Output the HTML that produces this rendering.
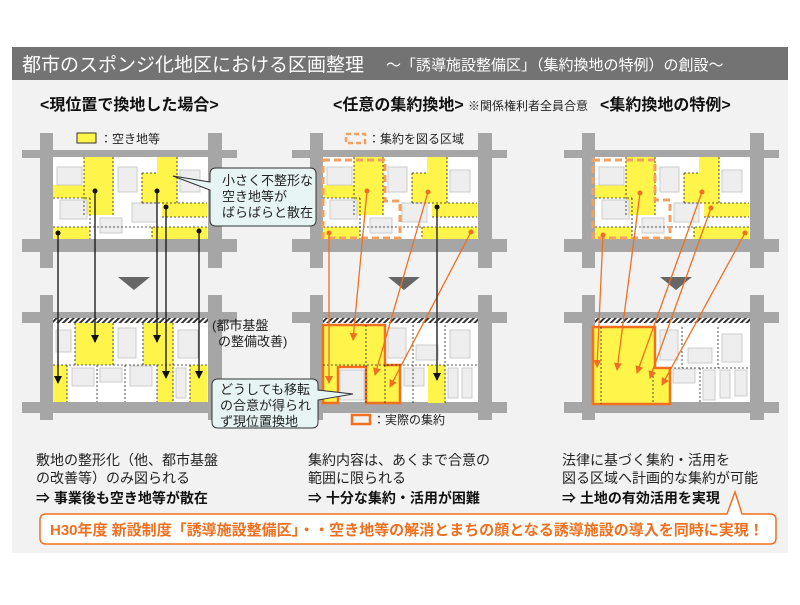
<!DOCTYPE html>
<html><head><meta charset="utf-8"><style>
body{margin:0;width:800px;height:600px;background:#fff;font-family:"Liberation Sans","Noto Sans CJK JP",sans-serif;overflow:hidden}
</style></head><body>
<svg width="800" height="600" xmlns="http://www.w3.org/2000/svg" font-family="Liberation Sans, Noto Sans CJK JP, sans-serif">
<defs>
<pattern id="hatch" width="4" height="4" patternUnits="userSpaceOnUse" patternTransform="rotate(45)"><rect width="4" height="4" fill="#fff"/><rect width="2" height="4" fill="#333"/></pattern>
<marker id="ab" markerWidth="8" markerHeight="8" refX="7" refY="4" orient="auto" markerUnits="userSpaceOnUse"><path d="M0,0 L8,4 L0,8z" fill="#111"/></marker>
<marker id="ao" markerWidth="8" markerHeight="8" refX="7" refY="4" orient="auto" markerUnits="userSpaceOnUse"><path d="M0,0 L8,4 L0,8z" fill="#f07020"/></marker>
<g id="roads">
<rect x="40" y="133" width="13" height="135" fill="#a6a6a6"/><rect x="208" y="133" width="14" height="135" fill="#a6a6a6"/>
<rect x="22" y="150" width="215" height="8" fill="#a6a6a6"/><rect x="22" y="239" width="215" height="13" fill="#a6a6a6"/>
<rect x="53" y="157" width="155" height="82" fill="#fff"/>
<rect x="40" y="295" width="13" height="125" fill="#a6a6a6"/><rect x="208" y="295" width="14" height="125" fill="#a6a6a6"/>
<rect x="22" y="312" width="215" height="11" fill="#a6a6a6"/><rect x="22" y="402" width="215" height="11" fill="#a6a6a6"/>
<rect x="53" y="318" width="155" height="5" fill="url(#hatch)"/>
<rect x="53" y="323" width="155" height="79" fill="#fff"/>
<path d="M118,277 L150,277 L134,290z" fill="#666"/>
</g>
<g id="topy">
<g fill="#fef44a">
<rect x="84" y="157" width="29" height="58"/><rect x="53" y="185" width="37" height="13"/>
<rect x="157" y="157" width="20" height="46"/><rect x="142" y="173" width="35" height="30"/>
<rect x="162" y="203" width="45" height="14"/>
<rect x="53" y="227" width="37" height="12"/><rect x="152" y="227" width="55" height="12"/>
</g>
<g fill="#eee" stroke="#ccc">
<rect x="57" y="167" width="25" height="18"/><rect x="118" y="167" width="19" height="25"/><rect x="180" y="170" width="20" height="22"/>
<rect x="60" y="200" width="27" height="19"/><rect x="100" y="218" width="22" height="15"/><rect x="132" y="203" width="25" height="19"/>
</g>
<g stroke="#222" stroke-dasharray="2,2" fill="none" stroke-width="0.8">
<path d="M84,157V215M113,157V215M53,198H90M53,227H208M90,198V239M142,173H157M142,173V203M177,157V203M162,217H207M152,227V239M142,203H207"/>
</g>
</g>
</defs>
<rect x="12" y="47" width="776" height="506" fill="#f2f2f2"/>
<rect x="12" y="47" width="776" height="33" fill="#737373"/>
<text x="22" y="71" fill="#fff" font-size="19">都市のスポンジ化地区における区画整理</text>
<text x="386" y="70" fill="#fff" font-size="15">～「誘導施設整備区」（集約換地の特例）の創設～</text>
<g font-weight="bold" font-size="16" fill="#111">
<text x="40" y="110">&lt;現位置で換地した場合&gt;</text>
<text x="333" y="110">&lt;任意の集約換地&gt;</text>
<text x="600" y="110">&lt;集約換地の特例&gt;</text>
</g>
<text x="468" y="110" font-size="12" fill="#222">※関係権利者全員合意</text>

<!-- diagram 1 -->
<use href="#roads"/><use href="#topy"/>
<g fill="#fef44a"><rect x="75" y="323" width="38" height="42"/><rect x="143" y="323" width="30" height="42"/><rect x="53" y="365" width="14" height="37"/><rect x="157" y="365" width="16" height="37"/><rect x="190" y="365" width="17" height="37"/></g>
<g fill="#eee" stroke="#ccc"><rect x="56" y="330" width="15" height="22"/><rect x="118" y="328" width="18" height="30"/><rect x="178" y="330" width="20" height="28"/><rect x="72" y="368" width="22" height="18"/><rect x="100" y="368" width="22" height="14"/><rect x="130" y="366" width="22" height="20"/><rect x="176" y="368" width="10" height="30"/></g>
<g stroke="#222" stroke-dasharray="2,2" fill="none" stroke-width="0.8"><path d="M53,365H208M75,323V365M113,323V365M143,323V365M173,323V402M67,365V402M97,365V402M125,365V402M157,365V402M190,365V402"/></g>
<g stroke="#111" stroke-width="1.3" marker-end="url(#ab)">
<line x1="95" y1="191" x2="95" y2="342"/><line x1="157" y1="191" x2="157" y2="342"/><line x1="166" y1="207" x2="166" y2="378"/><line x1="199" y1="231" x2="199" y2="378"/><line x1="58" y1="233" x2="58" y2="383"/>
</g>
<g fill="#111"><circle cx="95" cy="191" r="2.5"/><circle cx="157" cy="191" r="2.5"/><circle cx="166" cy="207" r="2.5"/><circle cx="199" cy="231" r="2.5"/><circle cx="58" cy="233" r="2.5"/></g>
<rect x="77" y="133" width="19" height="10" fill="#fef44a" stroke="#333"/><text x="100" y="143" font-size="12" fill="#222">：空き地等</text>

<!-- diagram 2 -->
<g transform="translate(270,0)"><use href="#roads"/><use href="#topy"/></g>
<path d="M323,160H385V201H400V238H323z" fill="none" stroke="#f4a060" stroke-width="3" stroke-dasharray="7,4"/>
<g fill="#eee" stroke="#ccc"><rect x="388" y="328" width="18" height="30"/><rect x="416" y="345" width="22" height="15"/><rect x="450" y="330" width="20" height="28"/><rect x="404" y="368" width="20" height="18"/><rect x="448" y="368" width="10" height="30"/><rect x="462" y="368" width="10" height="30"/><rect x="340" y="370" width="24" height="30"/></g>
<rect x="428" y="365" width="17" height="38" fill="#fef44a"/>
<path d="M323,325H385V365H400V403H366V367H338V403H323z" fill="#fef44a" stroke="#f07020" stroke-width="2.5"/>
<g stroke="#222" stroke-dasharray="2,2" fill="none" stroke-width="0.8"><path d="M323,365H478M366,325V403M385,365V403M413,325V403M445,325V403"/></g>
<g stroke="#f07020" stroke-width="1.3" marker-end="url(#ao)">
<line x1="367" y1="191" x2="353" y2="340"/><line x1="428" y1="192" x2="375" y2="375"/><line x1="471" y1="232" x2="390" y2="387"/><line x1="329" y1="233" x2="329" y2="383"/>
</g>
<g fill="#f07020"><circle cx="367" cy="191" r="2.5"/><circle cx="428" cy="192" r="2.5"/><circle cx="471" cy="232" r="2.5"/><circle cx="329" cy="233" r="2.5"/></g>
<line x1="437" y1="207" x2="437" y2="380" stroke="#333" stroke-width="1.5" marker-end="url(#ab)"/><circle cx="437" cy="207" r="2.5" fill="#111"/>
<rect x="346" y="134" width="19" height="9" fill="none" stroke="#f4a060" stroke-width="2.5" stroke-dasharray="5,3"/><text x="368" y="143" font-size="12" fill="#222">：集約を図る区域</text>
<rect x="352" y="415" width="18" height="9" fill="none" stroke="#f07020" stroke-width="2.5"/><text x="373" y="424" font-size="12" fill="#222">：実際の集約</text>

<!-- diagram 3 -->
<g transform="translate(542,0)"><use href="#roads"/><use href="#topy"/></g>
<path d="M593,160H655V200H670V238H593z" fill="none" stroke="#f4a060" stroke-width="3" stroke-dasharray="7,4"/>
<g fill="#eee" stroke="#ccc"><rect x="660" y="330" width="18" height="30"/><rect x="688" y="348" width="24" height="15"/><rect x="722" y="334" width="20" height="28"/><rect x="673" y="369" width="22" height="14"/><rect x="703" y="370" width="12" height="30"/><rect x="720" y="370" width="10" height="28"/><rect x="735" y="370" width="12" height="26"/></g>
<path d="M593,327H655V368H670V404H593z" fill="#fef44a" stroke="#f07020" stroke-width="2.5"/>
<g stroke="#222" stroke-dasharray="2,2" fill="none" stroke-width="0.8"><path d="M670,368H750M700,368V404M682,327V368M718,327V368M601,327V404M653,368V404"/></g>
<g stroke="#f07020" stroke-width="1.3" marker-end="url(#ao)">
<line x1="603" y1="235" x2="597" y2="367"/><line x1="640" y1="193" x2="617" y2="370"/><line x1="702" y1="192" x2="637" y2="373"/><line x1="711" y1="208" x2="650" y2="378"/><line x1="745" y1="233" x2="662" y2="385"/>
</g>
<g fill="#f07020"><circle cx="603" cy="235" r="2.5"/><circle cx="640" cy="193" r="2.5"/><circle cx="702" cy="192" r="2.5"/><circle cx="711" cy="208" r="2.5"/><circle cx="745" cy="233" r="2.5"/></g>

<!-- callouts -->
<path d="M216,168H310Q316,168 316,174V220Q316,226 310,226H216Q210,226 210,220V190L173,176L210,182V174Q210,168 216,168z" fill="#e6f4f4" stroke="#333"/>
<g font-size="13" fill="#222"><text x="222" y="185">小さく不整形な</text><text x="222" y="201">空き地等が</text><text x="222" y="217">ばらばらと散在</text></g>
<path d="M218,379H312Q318,379 318,385V390L353,394L318,400V422Q318,428 312,428H218Q212,428 212,422V385Q212,379 218,379z" fill="#e6f4f4" stroke="#333"/>
<g font-size="13" fill="#222"><text x="220" y="394">どうしても移転</text><text x="220" y="410">の合意が得られ</text><text x="220" y="426">ず現位置換地</text></g>
<g font-size="13" fill="#222"><text x="212" y="330">(都市基盤</text><text x="218" y="346">の整備改善)</text></g>

<!-- bottom text -->
<g font-size="14" fill="#222">
<text x="36" y="465">敷地の整形化（他、都市基盤</text><text x="36" y="483">の改善等）のみ図られる</text>
<text x="308" y="465">集約内容は、あくまで合意の</text><text x="308" y="483">範囲に限られる</text>
<text x="562" y="465">法律に基づく集約・活用を</text><text x="562" y="483">図る区域へ計画的な集約が可能</text>
</g>
<g font-size="14" font-weight="bold" fill="#111">
<text x="36" y="503">⇒ 事業後も空き地等が散在</text><text x="308" y="503">⇒ 十分な集約・活用が困難</text><text x="562" y="503">⇒ 土地の有効活用を実現</text>
</g>
<path d="M46,514H727L735,492L742,514H770Q776,514 776,520V538Q776,544 770,544H46Q40,544 40,538V520Q40,514 46,514z" fill="#fff" stroke="#f07020" stroke-width="1.5"/>
<text x="50" y="535" font-size="15" font-weight="bold" fill="#f07020">H30年度 新設制度「誘導施設整備区」・・空き地等の解消とまちの顔となる誘導施設の導入を同時に実現！</text>
</svg>
</body></html>
